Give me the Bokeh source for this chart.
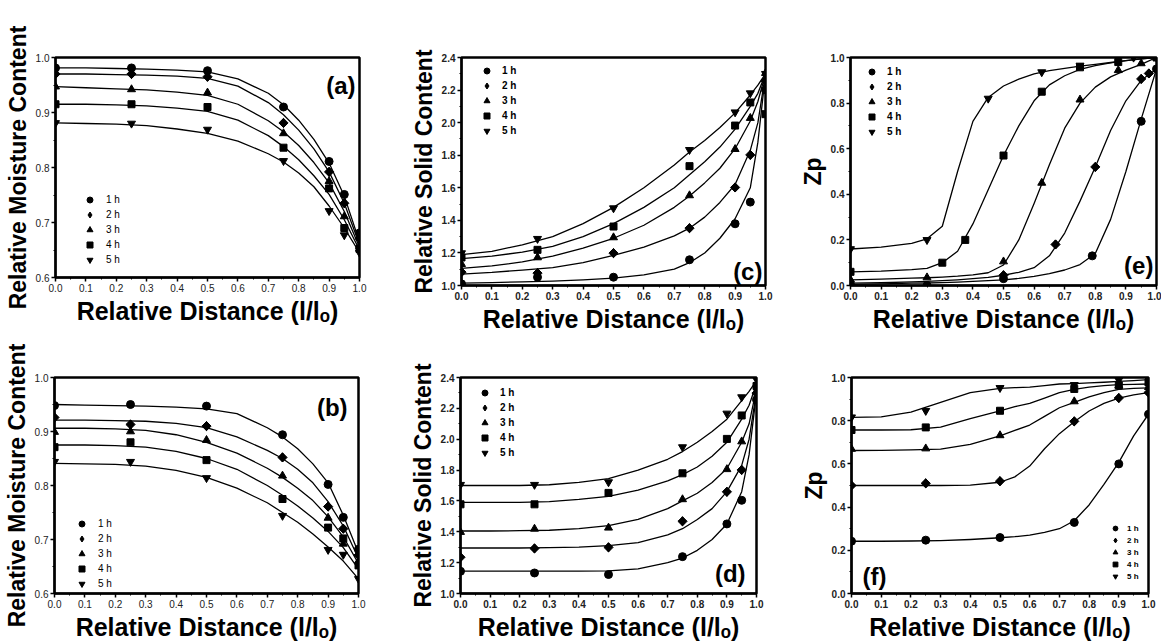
from bokeh.plotting import figure
from bokeh.layouts import column, row
from bokeh.models import Range1d, FixedTicker, PrintfTickFormatter, Legend, LegendItem, Label
from bokeh.embed import file_html
from bokeh.resources import INLINE

FONT = "Liberation Sans"
SERIES = ["1 h", "2 h", "3 h", "4 h", "5 h"]
MARKERS = ["circle", "diamond", "triangle", "square", "inverted_triangle"]
MSIZE = [8, 9, 8, 7, 8]
XLABEL = "Relative Distance (l/l\u2092)"

X_TICKS = [0.0, 0.1, 0.2, 0.3, 0.4, 0.5, 0.6, 0.7, 0.8, 0.9, 1.0]
X_MINOR = [0.05, 0.15, 0.25, 0.35, 0.45, 0.55, 0.65, 0.75, 0.85, 0.95]
Y_TICKS_MOIST = [0.6, 0.7, 0.8, 0.9, 1.0]
Y_MINOR_MOIST = [0.65, 0.75, 0.85, 0.95]
Y_TICKS_SOLID = [1.0, 1.2, 1.4, 1.6, 1.8, 2.0, 2.2, 2.4]
Y_MINOR_SOLID = [1.1, 1.3, 1.5, 1.7, 1.9, 2.1, 2.3]
Y_TICKS_ZP = [0.0, 0.2, 0.4, 0.6, 0.8, 1.0]
Y_MINOR_ZP = [0.1, 0.3, 0.5, 0.7, 0.9]

# measured points (common x positions)
X_PTS = [0.0, 0.25, 0.5, 0.75, 0.9, 0.95, 1.0]

# (a) relative moisture content
A_Y = [
    [0.981, 0.981, 0.976, 0.910, 0.811, 0.751, 0.681],
    [0.970, 0.970, 0.965, 0.881, 0.792, 0.735, 0.671],
    [0.947, 0.942, 0.936, 0.862, 0.775, 0.711, 0.657],
    [0.915, 0.915, 0.910, 0.836, 0.762, 0.690, 0.652],
    [0.881, 0.880, 0.869, 0.812, 0.721, 0.677, 0.645],
]
CX_AB = [0.0, 0.1, 0.2, 0.3, 0.4, 0.5, 0.6, 0.7, 0.75, 0.8, 0.85, 0.9, 0.95, 1.0]
A_C = [
    [0.981, 0.981, 0.980, 0.979, 0.977, 0.974, 0.961, 0.935, 0.914, 0.886, 0.851, 0.808, 0.748, 0.665],
    [0.970, 0.970, 0.969, 0.968, 0.966, 0.962, 0.948, 0.918, 0.896, 0.868, 0.834, 0.792, 0.735, 0.660],
    [0.947, 0.945, 0.943, 0.941, 0.937, 0.931, 0.915, 0.885, 0.865, 0.840, 0.809, 0.772, 0.720, 0.655],
    [0.915, 0.915, 0.914, 0.912, 0.908, 0.902, 0.886, 0.858, 0.838, 0.814, 0.785, 0.751, 0.705, 0.650],
    [0.881, 0.880, 0.879, 0.876, 0.870, 0.862, 0.848, 0.825, 0.810, 0.790, 0.765, 0.730, 0.690, 0.645],
]

# (b) relative moisture content
B_Y = [
    [0.948, 0.950, 0.947, 0.894, 0.802, 0.741, 0.682],
    [0.926, 0.913, 0.910, 0.852, 0.761, 0.720, 0.671],
    [0.899, 0.900, 0.884, 0.818, 0.740, 0.692, 0.660],
    [0.871, 0.880, 0.847, 0.775, 0.722, 0.702, 0.652],
    [0.844, 0.844, 0.814, 0.744, 0.681, 0.672, 0.627],
]
B_C = [
    [0.950, 0.949, 0.948, 0.947, 0.945, 0.942, 0.933, 0.907, 0.890, 0.868, 0.840, 0.805, 0.745, 0.675],
    [0.921, 0.921, 0.920, 0.919, 0.915, 0.907, 0.890, 0.865, 0.850, 0.830, 0.805, 0.770, 0.725, 0.665],
    [0.906, 0.906, 0.905, 0.902, 0.894, 0.880, 0.860, 0.832, 0.815, 0.795, 0.772, 0.742, 0.705, 0.655],
    [0.875, 0.875, 0.874, 0.871, 0.863, 0.850, 0.830, 0.800, 0.782, 0.762, 0.740, 0.715, 0.685, 0.645],
    [0.841, 0.840, 0.839, 0.836, 0.828, 0.815, 0.795, 0.768, 0.750, 0.732, 0.710, 0.686, 0.660, 0.627],
]

# (c) relative solid content
C_Y = [
    [1.010, 1.051, 1.051, 1.158, 1.379, 1.512, 2.201],
    [1.082, 1.076, 1.199, 1.352, 1.602, 1.802, 2.257],
    [1.131, 1.172, 1.295, 1.553, 1.837, 2.028, 2.304],
    [1.172, 1.219, 1.362, 1.733, 1.982, 2.124, 2.052],
    [1.199, 1.287, 1.475, 1.833, 2.064, 2.181, 2.300],
]
CX_CD = [0.0, 0.1, 0.2, 0.3, 0.4, 0.5, 0.6, 0.7, 0.75, 0.8, 0.85, 0.9, 0.95, 0.975, 1.0]
C_C = [
    [1.015, 1.018, 1.022, 1.027, 1.034, 1.045, 1.065, 1.100, 1.140, 1.200, 1.290, 1.410, 1.600, 1.880, 2.300],
    [1.070, 1.080, 1.095, 1.110, 1.140, 1.185, 1.235, 1.305, 1.352, 1.420, 1.510, 1.620, 1.830, 2.000, 2.300],
    [1.105, 1.120, 1.145, 1.180, 1.230, 1.290, 1.370, 1.480, 1.550, 1.630, 1.720, 1.840, 2.010, 2.130, 2.300],
    [1.165, 1.180, 1.205, 1.240, 1.300, 1.380, 1.480, 1.600, 1.680, 1.760, 1.850, 1.960, 2.100, 2.180, 2.300],
    [1.190, 1.210, 1.250, 1.300, 1.380, 1.480, 1.600, 1.740, 1.820, 1.890, 1.970, 2.060, 2.170, 2.230, 2.300],
]

# (d) relative solid content
D_Y = [
    [1.144, 1.133, 1.123, 1.239, 1.451, 1.604, 2.256],
    [1.235, 1.292, 1.299, 1.468, 1.659, 1.801, 2.298],
    [1.398, 1.419, 1.426, 1.610, 1.805, 1.985, 2.309],
    [1.578, 1.578, 1.652, 1.779, 2.002, 2.154, 2.345],
    [1.705, 1.705, 1.722, 1.949, 2.167, 2.273, 2.387],
]
D_C = [
    [1.145, 1.145, 1.145, 1.145, 1.145, 1.147, 1.160, 1.200, 1.230, 1.280, 1.350, 1.450, 1.660, 1.900, 2.300],
    [1.295, 1.295, 1.295, 1.297, 1.300, 1.310, 1.330, 1.380, 1.420, 1.480, 1.550, 1.660, 1.830, 2.000, 2.310],
    [1.405, 1.405, 1.407, 1.410, 1.420, 1.440, 1.480, 1.550, 1.600, 1.650, 1.720, 1.810, 1.980, 2.100, 2.330],
    [1.590, 1.590, 1.590, 1.595, 1.610, 1.630, 1.670, 1.730, 1.770, 1.820, 1.890, 1.980, 2.130, 2.220, 2.360],
    [1.700, 1.700, 1.700, 1.705, 1.720, 1.745, 1.800, 1.870, 1.920, 1.980, 2.050, 2.130, 2.250, 2.310, 2.380],
]

# (e) Zp
E_X = [
    [0.0, 0.25, 0.5, 0.79, 0.95, 1.0],
    [0.0, 0.5, 0.67, 0.8, 0.95, 0.975],
    [0.0, 0.25, 0.5, 0.625, 0.75, 0.875, 0.95],
    [0.0, 0.3, 0.375, 0.5, 0.625, 0.75, 0.875, 1.0],
    [0.0, 0.25, 0.45, 0.625, 0.75, 0.925, 1.0],
]
E_Y = [
    [0.003, 0.0, 0.03, 0.13, 0.72, 0.95],
    [0.0, 0.045, 0.18, 0.52, 0.906, 0.93],
    [0.025, 0.035, 0.105, 0.45, 0.815, 0.944, 0.974],
    [0.06, 0.10, 0.20, 0.57, 0.85, 0.957, 0.98, 1.0],
    [0.16, 0.20, 0.82, 0.936, 0.965, 1.0, 1.0],
]
CX_E = [0.0, 0.1, 0.2, 0.25, 0.3, 0.35, 0.4, 0.45, 0.5, 0.55, 0.6, 0.65, 0.7, 0.75, 0.8, 0.85, 0.9, 0.95, 1.0]
E_C = [
    [0.005, 0.007, 0.010, 0.011, 0.013, 0.015, 0.018, 0.021, 0.025, 0.031, 0.040, 0.052, 0.068, 0.092, 0.140, 0.290, 0.500, 0.730, 0.950],
    [0.010, 0.012, 0.016, 0.018, 0.021, 0.025, 0.030, 0.036, 0.045, 0.058, 0.078, 0.130, 0.230, 0.370, 0.520, 0.680, 0.810, 0.900, 0.950],
    [0.025, 0.028, 0.032, 0.034, 0.037, 0.041, 0.047, 0.056, 0.090, 0.200, 0.360, 0.530, 0.690, 0.800, 0.870, 0.915, 0.945, 0.970, 1.000],
    [0.060, 0.063, 0.070, 0.075, 0.100, 0.150, 0.270, 0.420, 0.570, 0.700, 0.810, 0.880, 0.920, 0.948, 0.964, 0.976, 0.986, 0.994, 1.000],
    [0.160, 0.168, 0.185, 0.205, 0.260, 0.500, 0.720, 0.825, 0.875, 0.905, 0.928, 0.942, 0.952, 0.962, 0.970, 0.978, 0.986, 0.994, 1.000],
]

# (f) Zp
F_X = [0.0, 0.25, 0.5, 0.75, 0.9, 1.0]
F_Y = [
    [0.242, 0.247, 0.259, 0.329, 0.600, 0.830],
    [0.500, 0.510, 0.520, 0.797, 0.905, 0.930],
    [0.669, 0.671, 0.732, 0.889, 0.963, 0.955],
    [0.757, 0.769, 0.846, 0.947, 0.963, 0.977],
    [0.816, 0.846, 0.952, 0.966, 0.988, 0.993],
]
CX_F = [0.0, 0.1, 0.2, 0.3, 0.4, 0.5, 0.55, 0.6, 0.65, 0.7, 0.75, 0.8, 0.85, 0.9, 0.95, 1.0]
F_C = [
    [0.242, 0.242, 0.243, 0.245, 0.250, 0.258, 0.263, 0.270, 0.283, 0.300, 0.337, 0.410, 0.505, 0.607, 0.730, 0.830],
    [0.500, 0.500, 0.500, 0.500, 0.502, 0.515, 0.540, 0.590, 0.670, 0.740, 0.795, 0.845, 0.880, 0.905, 0.920, 0.930],
    [0.662, 0.663, 0.665, 0.668, 0.690, 0.730, 0.755, 0.780, 0.820, 0.860, 0.885, 0.910, 0.930, 0.945, 0.950, 0.952],
    [0.757, 0.757, 0.758, 0.770, 0.810, 0.845, 0.865, 0.880, 0.905, 0.930, 0.945, 0.955, 0.962, 0.967, 0.968, 0.970],
    [0.815, 0.818, 0.840, 0.885, 0.930, 0.950, 0.953, 0.955, 0.962, 0.970, 0.972, 0.975, 0.978, 0.982, 0.986, 0.990],
]


def make_panel(frame, borders, yr, yticks, yminor, ylabel, xs, ys, cx, cys,
               tag, tag_x, tag_y, tag_align, leg_xy, leg_glyph, leg_standoff,
               leg_font, bold_text):
    fw, fh = frame
    bl, br, bt, bb = borders
    p = figure(frame_width=fw, frame_height=fh,
               x_range=Range1d(0, 1), y_range=Range1d(*yr),
               output_backend="svg", toolbar_location=None,
               min_border_left=bl, min_border_right=br,
               min_border_top=bt, min_border_bottom=bb)
    p.grid.visible = False
    p.outline_line_color = "black"
    p.outline_line_width = 2.5
    for ax in (p.xaxis[0], p.yaxis[0]):
        ax.axis_line_width = 2
        ax.axis_line_color = "black"
        ax.major_tick_out = 4
        ax.major_tick_in = 0
        ax.minor_tick_out = 2
        ax.minor_tick_in = 0
        ax.major_tick_line_width = 1.5
        ax.minor_tick_line_width = 1
        ax.major_label_text_font = FONT
        ax.major_label_text_font_size = "10px"
        ax.major_label_text_font_style = "bold" if bold_text else "normal"
        ax.major_label_text_color = "#222222"
        ax.major_label_standoff = 2
        ax.axis_label_text_font = FONT
        ax.axis_label_text_font_style = "bold"
        ax.axis_label_text_color = "black"
        ax.axis_label_standoff = 2
    p.xaxis.axis_label_text_font_size = "25px"
    p.yaxis.axis_label_text_font_size = "23px"
    p.xaxis.ticker = FixedTicker(ticks=X_TICKS, minor_ticks=X_MINOR)
    p.xaxis.formatter = PrintfTickFormatter(format="%.1f")
    p.yaxis.ticker = FixedTicker(ticks=yticks, minor_ticks=yminor)
    p.yaxis.formatter = PrintfTickFormatter(format="%.1f")
    p.xaxis.axis_label = XLABEL
    p.yaxis.axis_label = ylabel

    items = []
    for i in range(5):
        p.line(cx, cys[i], line_color="black", line_width=1.3, line_join="round")
        r = p.scatter(xs[i], ys[i], marker=MARKERS[i], size=MSIZE[i],
                      fill_color="black", line_color="black")
        if MARKERS[i] == "diamond":
            # broaden the narrow diamond: a square turned 45 degrees on the same points
            p.scatter(xs[i], ys[i], marker="square", size=6.5, angle=0.7853981634,
                      fill_color="black", line_color="black")
        items.append(LegendItem(label=SERIES[i], renderers=[r]))
    leg = Legend(items=items, location=leg_xy, glyph_width=leg_glyph, glyph_height=leg_glyph,
                 spacing=0, label_height=8, label_standoff=leg_standoff,
                 label_text_font=FONT, label_text_font_size=leg_font,
                 label_text_color="black",
                 label_text_font_style="bold" if bold_text else "normal",
                 padding=0, margin=0, border_line_alpha=0, background_fill_alpha=0)
    p.add_layout(leg)
    p.add_layout(Label(x=tag_x, y=tag_y, text=tag, text_font=FONT, text_font_size="24px",
                       text_color="black", text_font_style="bold",
                       text_align=tag_align, text_baseline="middle"))
    return p


# row 1 total height 340, row 2 total height 304; columns 405 / 385 / 371
pa = make_panel((304, 220), (55, 46, 54, 66), (0.6, 1.0), Y_TICKS_MOIST, Y_MINOR_MOIST,
                "Relative Moisture Content", [X_PTS] * 5, A_Y, CX_AB, A_C,
                "(a)", 0.987, 0.95, "right", (27, 10), 15, 9, "10px", False)
pc = make_panel((304, 228), (56, 25, 56, 56), (1.0, 2.4), Y_TICKS_SOLID, Y_MINOR_SOLID,
                "Relative Solid Content", [X_PTS] * 5, C_Y, CX_CD, C_C,
                "(c)", 0.99, 1.086, "right", (18, 147), 15, 8, "10px", True)
pe = make_panel((306, 228), (60, 5, 57, 55), (0.0, 1.0), Y_TICKS_ZP, Y_MINOR_ZP,
                "Zp", E_X, E_Y, CX_E, E_C,
                "(e)", 0.99, 0.086, "right", (14, 146), 15, 8, "10px", True)
pb = make_panel((304, 216), (54, 47, 37, 51), (0.6, 1.0), Y_TICKS_MOIST, Y_MINOR_MOIST,
                "Relative Moisture Content", [X_PTS] * 5, B_Y, CX_AB, B_C,
                "(b)", 0.964, 0.944, "right", (20, 2), 15, 9, "10px", False)
pd_ = make_panel((296, 216), (55, 34, 37, 51), (1.0, 2.4), Y_TICKS_SOLID, Y_MINOR_SOLID,
                 "Relative Solid Content", [X_PTS] * 5, D_Y, CX_CD, D_C,
                 "(d)", 0.963, 1.127, "right", (17, 133), 15, 8, "10px", True)
pf = make_panel((297, 216), (61, 13, 37, 51), (0.0, 1.0), Y_TICKS_ZP, Y_MINOR_ZP,
                "Zp", [F_X] * 5, F_Y, CX_F, F_C,
                "(f)", 0.037, 0.079, "left", (258, 11), 12, 6, "8px", True)

layout = column(row(pa, pc, pe, spacing=0), row(pb, pd_, pf, spacing=0), spacing=0)
open("out.html", "w").write(file_html(layout, INLINE))
